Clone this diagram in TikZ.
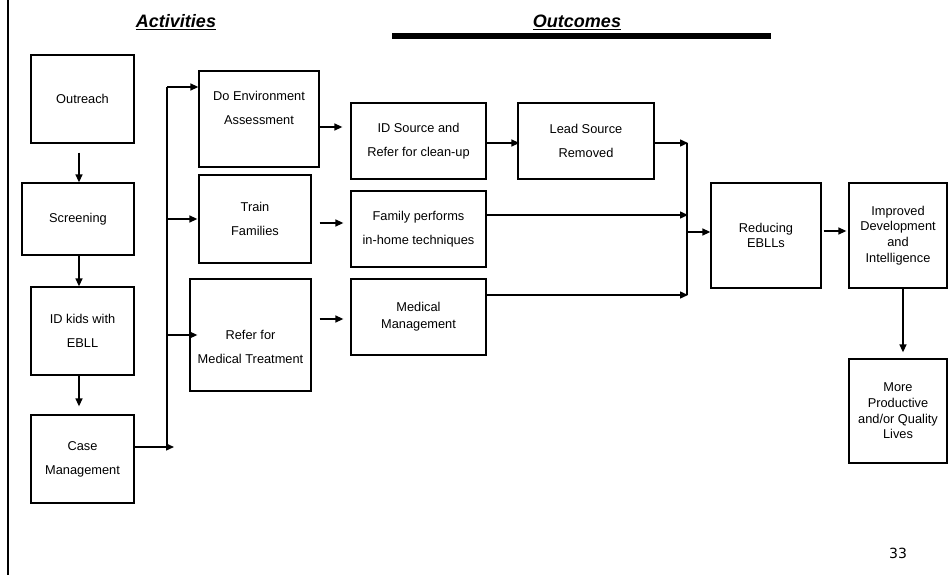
\documentclass[tikz,border=0pt]{standalone}
\usepackage{fontspec}
\setmainfont{Liberation Sans}
\newfontfamily\pagenofont{DejaVu Sans}
\usetikzlibrary{arrows.meta}
\begin{document}
\begin{tikzpicture}[x=1pt,y=-1pt,
  box/.style={draw,line width=1.3pt,inner sep=0pt,align=center,
    font=\fontsize{12.8}{24}\selectfont},
  txt/.style={align=center,inner sep=0pt,font=\fontsize{12.8}{24}\selectfont},
  arr/.style={line width=1.4pt,-{Triangle[length=8pt,width=7pt]}},
  bus/.style={line width=2pt},
  heading/.style={font=\fontsize{18}{20}\selectfont\bfseries\itshape}]
\useasboundingbox (0,0) rectangle (951,575);

% page frame line and title bar
\draw[line width=2pt] (8,0) -- (8,575);
\draw[line width=6pt] (392,36.5) -- (771,36.5);
\node[heading] (hact) at (176,22) {\underline{Activities}};
\node[heading] (hout) at (577,22) {\underline{Outcomes}};

% activities column
\node[box,minimum width=103,minimum height=88] (outreach) at (82.5,99) {Outreach};
\node[box,minimum width=112,minimum height=72] (screening) at (78,219) {Screening};
\node[box,minimum width=103,minimum height=88] (idkids) at (82.5,331) {ID kids with\\EBLL};
\node[box,minimum width=103,minimum height=88] (casemgmt) at (82.5,459) {Case\\Management};

\node[box,minimum width=120,minimum height=96] (env) at (259,119) {};
\node[txt,yshift=11pt] (envtxt) at (env.center) {Do Environment\\Assessment};
\node[box,minimum width=112,minimum height=88] (train) at (255,219) {Train\\Families};
\node[box,minimum width=121,minimum height=112] (refer) at (250.5,335) {};
\node[txt,yshift=-12pt] (refertxt) at (refer.center) {Refer for\\Medical Treatment};

% outcomes
\node[box,minimum width=135,minimum height=76] (idsrc) at (418.5,141) {ID Source and\\Refer for clean-up};
\node[box,minimum width=136,minimum height=76] (lead) at (586,141) {Lead Source\\Removed};
\node[box,minimum width=135,minimum height=76] (family) at (418.5,229) {Family performs\\in-home techniques};
\node[box,minimum width=135,minimum height=76,font=\fontsize{12.8}{17}\selectfont] (medical) at (418.5,317) {Medical\\Management};
\node[box,minimum width=110,minimum height=105,font=\fontsize{12.8}{15}\selectfont] (reducing) at (766,235.5) {Reducing\\EBLLs};
\node[box,minimum width=98,minimum height=105,font=\fontsize{12.8}{15.7}\selectfont] (improved) at (898,235.5) {Improved\\Development\\and\\Intelligence};
\node[box,minimum width=98,minimum height=104,font=\fontsize{12.8}{15.7}\selectfont] (more) at (898,411) {More\\Productive\\and/or Quality\\Lives};

\node[font=\pagenofont\fontsize{14}{16}\selectfont] (pageno) at (898,553) {33};

% left column chain
\draw[arr] ([xshift=-3.5pt,yshift=-9pt]outreach.south) -- ([xshift=-3.5pt]screening.north -| outreach.south);
\draw[arr] ([xshift=-3.5pt]screening.south -| outreach.south) -- ([xshift=-3.5pt]idkids.north);
\draw[arr] ([xshift=-3.5pt]idkids.south) -- ([xshift=-3.5pt,yshift=8pt]casemgmt.north);

% distribution bus from case management
\coordinate (busT) at (167,87);
\coordinate (busB) at (167,447);
\draw[bus] (busT) -- (busB);
\draw[arr] ([yshift=12pt]casemgmt.east) -- ([xshift=7pt]busB);
\draw[arr] (busT) -- (busT -| env.west);
\draw[arr] (busT |- train.west) -- ([xshift=-1pt]train.west);
\draw[arr] (busT |- refer.west) -- ([xshift=8pt]refer.west);

% activities to outcomes
\draw[arr] ([yshift=-8pt]env.east) -- ([xshift=-8pt,yshift=14pt]idsrc.west);
\draw[arr] ([xshift=8pt,yshift=-4pt]train.east) -- ([xshift=-7pt,yshift=6pt]family.west);
\draw[arr] ([xshift=8pt,yshift=16pt]refer.east) -- ([xshift=-7pt,yshift=-2pt]medical.west);
\draw[arr] ([yshift=-2pt]idsrc.east) -- ([xshift=2pt,yshift=-2pt]lead.west);

% collecting bus into reducing EBLLs
\coordinate (bus2T) at (687,143);
\coordinate (bus2B) at (687,295);
\draw[bus] (bus2T) -- (bus2B);
\draw[arr] ([yshift=-2pt]lead.east) -- ([xshift=1pt]bus2T);
\draw[arr] ([yshift=14pt]family.east) -- ([xshift=1pt]bus2T |- 0,215);
\draw[arr] ([yshift=22pt]medical.east) -- ([xshift=1pt]bus2B);
\draw[arr] (bus2T |- 0,232) -- ([yshift=3.5pt]reducing.west);

% long-term outcomes
\draw[arr] ([xshift=2pt,yshift=4.5pt]reducing.east) -- ([xshift=-2pt,yshift=4.5pt]improved.west);
\draw[arr] ([xshift=5pt]improved.south) -- ([xshift=5pt,yshift=6pt]more.north);
\end{tikzpicture}
\end{document}
